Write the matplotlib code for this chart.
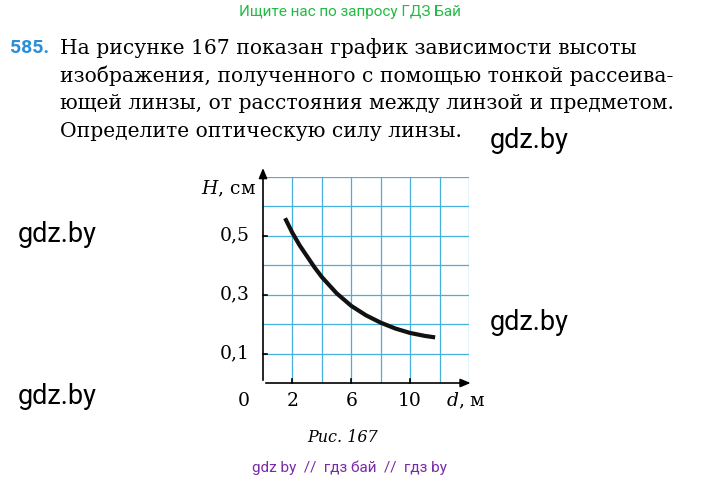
import matplotlib.pyplot as plt
import numpy as np

d_vals = [1.5, 2, 2.5, 3, 3.5, 4, 5, 6, 7, 8, 9, 10, 11, 11.7]
h_vals = [0.56, 0.51, 0.467, 0.43, 0.393, 0.36, 0.305, 0.262, 0.23, 0.205, 0.185, 0.17, 0.16, 0.155]
x_ticks = [2, 6, 10]
y_ticks = [0.1, 0.3, 0.5]

plt.rcParams['mathtext.fontset'] = 'dejavuserif'

W, H = 701, 482
fig = plt.figure(figsize=(W / 100, H / 100), dpi=100)
bg = fig.add_axes([0, 0, 1, 1])
bg.set_xlim(0, W)
bg.set_ylim(H, 0)
bg.axis('off')

serif = 'DejaVu Serif'
bg.text(350, 12, 'Ищите нас по запросу ГДЗ Бай', color='#22bb44', fontsize=11,
        ha='center', va='center', family='Roboto')
bg.text(10, 48, '585.', color='#2a8fd8', fontsize=14, fontweight='bold',
        ha='left', va='center', family='Roboto')
lines = ['На рисунке 167 показан график зависимости высоты',
         'изображения, полученного с помощью тонкой рассеива-',
         'ющей линзы, от расстояния между линзой и предметом.',
         'Определите оптическую силу линзы.']
for i, ln in enumerate(lines):
    bg.text(60, 48 + i * 27.7, ln, fontsize=14.6, family=serif, ha='left', va='center')
for (x, y) in [(490, 140), (18, 235), (490, 322), (18, 397)]:
    bg.text(x, y, 'gdz.by', fontsize=19.5, family='Roboto', ha='left', va='center')
bg.text(343, 438, 'Рис. 167', fontsize=11.5, style='italic', family=serif,
        ha='center', va='center')
bg.text(350, 468, 'gdz by  //  гдз бай  //  гдз by', fontsize=11, color='#7a2aa8',
        family='Roboto', ha='center', va='center')

ax = fig.add_axes([263 / W, (H - 383) / H, 206 / W, 206 / H])
ax.set_xlim(0, 14)
ax.set_ylim(0, 0.7)
grid_c = '#45b0dc'
for x in np.arange(2, 15, 2):
    ax.axvline(x, color=grid_c, lw=0.9)
for y in np.arange(0.1, 0.71, 0.1):
    ax.axhline(y, color=grid_c, lw=0.9)
for s in ax.spines.values():
    s.set_visible(False)
ax.set_xticks([])
ax.set_yticks([])
ax.annotate('', xy=(0, 0.74), xytext=(0, 0), annotation_clip=False,
            arrowprops=dict(arrowstyle='-|>,head_width=0.25,head_length=0.6', color='black', lw=1.2))
ax.annotate('', xy=(14.3, 0), xytext=(0, 0), annotation_clip=False,
            arrowprops=dict(arrowstyle='-|>,head_width=0.25,head_length=0.6', color='black', lw=1.2))
ax.plot(d_vals, h_vals, color='#111111', lw=3, solid_capstyle='butt', solid_joinstyle='round')
for x in x_ticks:
    ax.plot([x, x], [0, 0.012], color='black', lw=1.2, clip_on=False)
    ax.text(x, -0.06, str(x), ha='center', va='center', fontsize=13.5, family=serif)
ax.text(-1.3, -0.06, '0', ha='center', va='center', fontsize=13.5, family=serif)
ax.text(13.8, -0.06, '$d$, м', ha='center', va='center', fontsize=13.5, family=serif)
for y in y_ticks:
    ax.plot([0, 0.25], [y, y], color='black', lw=1.2, clip_on=False)
    ax.text(-0.9, y, str(y).replace('.', ','), ha='right', va='center', fontsize=13.5, family=serif)
ax.text(-0.5, 0.66, '$H$, см', ha='right', va='center', fontsize=13.5, family=serif)

fig.savefig('out.png', dpi=100)
